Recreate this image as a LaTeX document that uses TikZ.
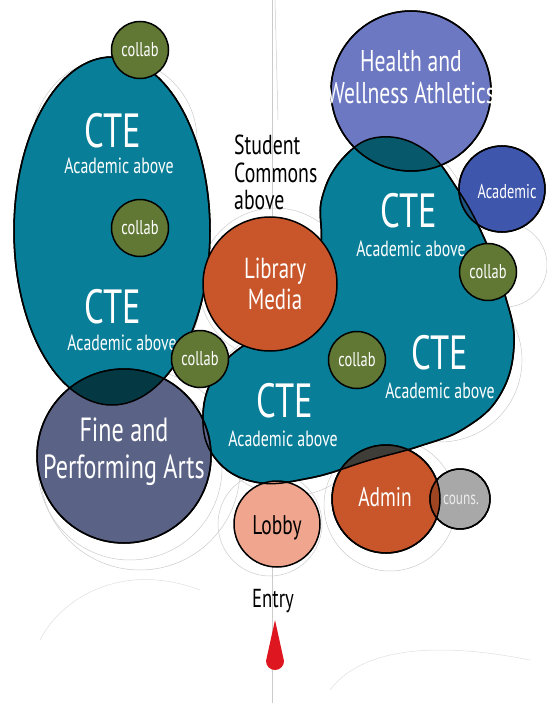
\documentclass[tikz,border=0pt]{standalone}
\usepackage{fontspec}
\setmainfont{PT Sans}[FakeStretch=0.72]
\usetikzlibrary{positioning}

\definecolor{ctecol}{RGB}{8,126,152}
\definecolor{collabcol}{RGB}{96,120,52}
\definecolor{orangecol}{RGB}{200,86,42}
\definecolor{healthcol}{RGB}{108,120,194}
\definecolor{academiccol}{RGB}{62,86,172}
\definecolor{artscol}{RGB}{90,98,134}
\definecolor{counscol}{RGB}{168,168,168}
\definecolor{lobbycol}{RGB}{240,166,142}
\definecolor{entrycol}{RGB}{222,22,32}
\definecolor{sketchcol}{RGB}{150,150,150}

\newcommand{\ctepath}{plot [smooth cycle, tension=0.7] coordinates {
		(322,198) (345,156) (381,137) (425,150) (458,190) (485,240) (505,295) (514,345)
		(500,395) (465,428) (420,446) (370,460) (310,478) (255,482) (215,458) (203,415)
		(218,370) (255,338) (300,315) (320,250)}}

\begin{document}
\begin{tikzpicture}
	[%
	x=1pt, y=-1pt,
	bubble/.style ={circle,	draw=black,	line width=1.5pt,	inner sep=0pt,	text=white,	align=center},%
	collab/.style ={bubble,	fill=collabcol,	minimum size=57pt,	font=\fontsize{20}{20}\selectfont},%
	region/.style ={draw=black,	line width=1.5pt},%
	outline/.style={draw=black,	line width=1.5pt},%
	sketch/.style ={draw=sketchcol!50,	line width=0.5pt},%
	label/.style  ={text=white,	align=center,	inner sep=0pt},%
	big/.style    ={label,	font=\fontsize{48}{48}\selectfont},%
	small/.style  ={label,	font=\fontsize{22}{22}\selectfont},%
	dark/.style   ={text=black,	align=left,	inner sep=0pt},%
	]

	\useasboundingbox (0,0) rectangle (546,703);

	% pencil sketch underneath
	\draw [sketch] (272,0) -- (272,703);
	\draw [sketch] (275,0) -- (278,120);
	\foreach \cx/\cy/\r in {275/284/76, 130/468/92, 140/470/100, 270/524/52, 390/505/66, 505/265/42, 440/360/82, 120/300/80, 115/140/82, 395/215/72, 290/412/84}
		\draw [sketch] (\cx,\cy) circle [radius=\r];
	\draw [sketch, draw=sketchcol!30] (40,640) .. controls (60,600) and (120,560) .. (200,590);
	\draw [sketch, draw=sketchcol!30] (330,690) .. controls (360,650) and (430,640) .. (530,660);

	% CTE areas
	\path [region, fill=ctecol] (112,231) ellipse [x radius=98, y radius=174];
	\path [region, fill=ctecol] \ctepath;

	% bubbles
	\node [bubble, fill=healthcol,   minimum size=160pt] (health)   at (411,91)  {};
	\node [bubble, fill=academiccol, minimum size=86pt]  (academic) at (502,189) {};
	\node [bubble, fill=artscol,     minimum size=174pt] (arts)     at (124,456) {};
	\node [bubble, fill=orangecol,   minimum size=108pt] (admin)    at (386,499) {};
	\node [bubble, fill=counscol,    minimum size=60pt]  (couns)    at (460,499) {};
	\node [bubble, fill=lobbycol,    minimum size=86pt]  (lobby)    at (277,524) {};

	% overlaps
	\begin{scope}
		\clip (arts.center) circle [radius=87];
		\fill [black!55!ctecol] (112,231) ellipse [x radius=98, y radius=174];
	\end{scope}
	\begin{scope}
		\clip (health.center) circle [radius=80];
		\fill [black!30!ctecol] \ctepath;
	\end{scope}
	\begin{scope}
		\clip (academic.center) circle [radius=43];
		\fill [black!35!academiccol!60!ctecol] \ctepath;
	\end{scope}
	\begin{scope}
		\clip (admin.center) circle [radius=54];
		\fill [black!60!ctecol!70!orangecol] \ctepath;
	\end{scope}
	\begin{scope}
		\clip (couns.center) circle [radius=30];
		\fill [black!20!orangecol] (admin.center) circle [radius=54];
	\end{scope}

	% outlines again
	\draw [outline] (112,231) ellipse [x radius=98, y radius=174];
	\draw [outline] (arts.center) circle [radius=87];
	\draw [outline] (health.center) circle [radius=80];
	\draw [outline] (academic.center) circle [radius=43];
	\draw [outline] (admin.center) circle [radius=54];
	\draw [outline] (couns.center) circle [radius=30];
	\draw [outline] \ctepath;

	\node [bubble, fill=orangecol, minimum size=134pt] (library) at (270,284) {};

	% labels
	\node [label, font=\fontsize{30}{32}\selectfont] (healthlabel) at (411,77) {Health and\\Wellness Athletics};
	\node [label, font=\fontsize{20}{20}\selectfont] (academiclabel) at (507,192) {Academic};
	\node [label, font=\fontsize{29}{31}\selectfont] (librarylabel) at (275,284) {Library\\Media};
	\node [label, font=\fontsize{33.5}{37}\selectfont] (artslabel) at (124,452) {Fine and\\Performing Arts};
	\node [label, font=\fontsize{27}{27}\selectfont] (adminlabel) at (385,497) {Admin};
	\node [label, font=\fontsize{18.5}{18.5}\selectfont, text=white!92!black] (counslabel) at (461,500) {couns.};
	\node [label, text=black, font=\fontsize{27}{27}\selectfont] (lobbylabel) at (277,528) {Lobby};

	\node [big]   (cte1)  at (113,131) {CTE};
	\node [small] (acad1) at (119,166) {Academic above};
	\node [big]   (cte2)  at (113,307) {CTE};
	\node [small] (acad2) at (122,343) {Academic above};
	\node [big]   (cte3)  at (409,211) {CTE};
	\node [small] (acad3) at (411,249) {Academic above};
	\node [big]   (cte4)  at (440,353) {CTE};
	\node [small] (acad4) at (440,391) {Academic above};
	\node [big]   (cte5)  at (285,401) {CTE};
	\node [small] (acad5) at (283,439) {Academic above};

	\node [dark, anchor=north west, font=\fontsize{27.5}{27.5}\selectfont] (commons) at (234,135) {Student\\Commons\\above};
	\node [dark, font=\fontsize{26}{26}\selectfont] (entry) at (273,601) {Entry};

	% entry marker
	\fill [entrycol] (275,620) -- (266,661) arc [start angle=180, end angle=0, radius=9] -- cycle;

	% collab spaces
	\node [collab] (collab1) at (140,50)  {collab};
	\node [collab] (collab2) at (140,228) {collab};
	\node [collab] (collab3) at (200,359) {collab};
	\node [collab] (collab4) at (488,272) {collab};
	\node [collab] (collab5) at (357,360) {collab};

\end{tikzpicture}
\end{document}
